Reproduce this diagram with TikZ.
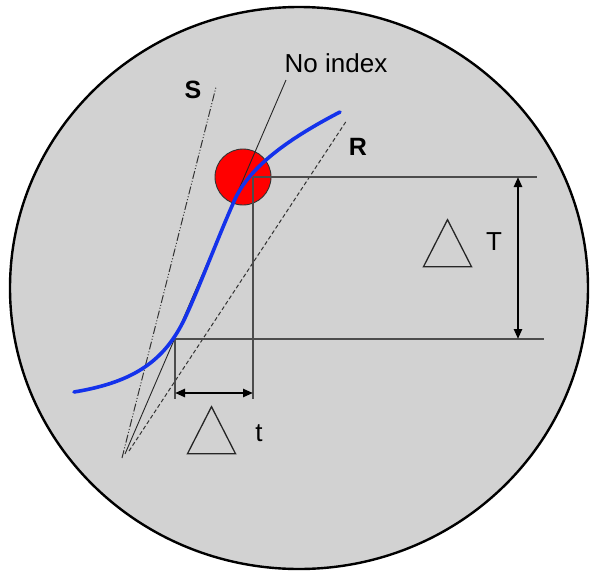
\documentclass[tikz,border=0pt]{standalone}
\usepackage{fontspec}
\setmainfont{Liberation Sans}
\usetikzlibrary{arrows.meta,shapes.geometric}
\usepackage{xcolor}
\definecolor{dishgray}{RGB}{210,210,210}
\definecolor{curveblue}{RGB}{20,50,235}

\begin{document}
\begin{tikzpicture}[
  x=1pt, y=-1pt,
  >={Triangle[length=10pt,width=8pt]},
  dish/.style={draw=black, line width=2.4pt, fill=dishgray},
  hitdot/.style={circle, draw=black!80, line width=0.9pt, fill=red,
                 minimum size=56pt, inner sep=0pt},
  sline/.style={black!80, line width=1pt,
                dash pattern=on 8pt off 2pt on 1pt off 2pt on 1pt off 2pt},
  nline/.style={black!85, line width=0.9pt},
  rline/.style={black!80, line width=1pt, dash pattern=on 4pt off 2.5pt},
  guide/.style={black!70, line width=1.1pt},
  dimarr/.style={<->, black, line width=2.4pt},
  biglbl/.style={font=\fontsize{25}{25}\selectfont\bfseries, inner sep=0pt},
  lbl/.style={font=\fontsize{26}{26}\selectfont, inner sep=0pt},
  deltatri/.style={isosceles triangle, isosceles triangle stretches,
                   shape border rotate=90, draw=black!85, line width=1.3pt,
                   minimum width=48pt, minimum height=47pt, inner sep=0pt},
]
\useasboundingbox (0,0) rectangle (590,574);

% ---- background disc ----
\draw[dish] (299,288) ellipse [x radius=289pt, y radius=281pt];

% ---- red point on the curve ----
\node[hitdot] (hit) at (243,177) {};

% ---- lines from the common origin ----
\coordinate (oS) at (122,458);
\coordinate (oN) at (125,454);
\coordinate (oR) at (129,451);
\coordinate (eS) at (216,87);
\coordinate (eN) at (286,80);
\coordinate (eR) at (347,120);
\draw[sline] (oS) -- (eS);
\draw[nline] (oN) -- (eN);
\draw[rline] (oR) -- (eR);

% ---- guide lines for the differences ----
\coordinate (lowc) at (175,339);
\coordinate (topc) at (253,177);
\coordinate (topend) at (537,177);
\coordinate (lowend) at (544,339);
\coordinate (lowfoot) at (175,399);
\coordinate (topfoot) at (253,399);
\draw[guide] (topc) -- (topend);
\draw[guide] (lowc) -- (lowend);
\draw[guide] (lowc) -- (lowfoot);
\draw[guide] (topc) -- (topfoot);

% dimension arrows
\coordinate (ta) at (175,393);
\coordinate (tb) at (253,393);
\coordinate (Ta) at (518,177);
\coordinate (Tb) at (518,339);
\draw[dimarr] (ta) -- (tb);
\draw[dimarr] (Ta) -- (Tb);

% ---- the curve ----
\draw[curveblue, line width=3.6pt, line cap=round]
  (74,392) .. controls (135,382) and (165,360) .. (185,318)
           .. controls (200,286) and (220,232) .. (236,197)
           .. controls (252,165) and (290,138) .. (340,112);

% ---- labels ----
\node[lbl] (noidx) at (336,63) {No index};
\node[biglbl] (slbl) at (193,90) {S};
\node[biglbl] (rlbl) at (358,147) {R};
\node[deltatri] (dT) at (447.5,252) {};
\node[lbl] (Tlbl) at (494,242) {T};
\node[deltatri] (dt) at (211.5,439) {};
\node[lbl] (tlbl) at (259,433) {t};

\end{tikzpicture}
\end{document}
